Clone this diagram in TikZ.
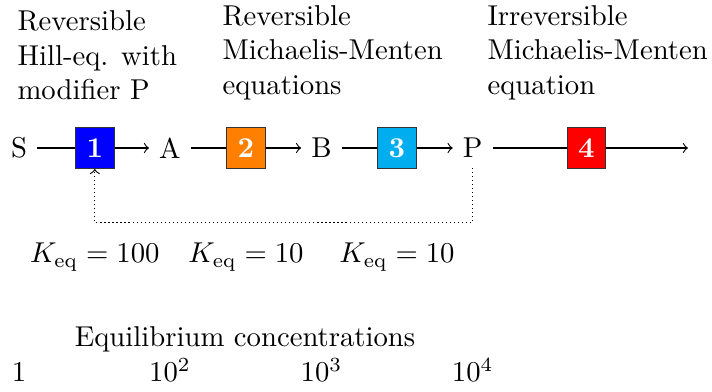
\documentclass[tikz,border=0pt]{standalone}
\definecolor{boxblue}{RGB}{0,0,255}
\definecolor{boxorange}{RGB}{255,128,0}
\definecolor{boxcyan}{RGB}{0,174,239}
\definecolor{boxred}{RGB}{255,0,0}
\begin{document}
\begin{tikzpicture}[x=0.3484pt,y=-0.3484pt,
  species/.style={},
  enzyme/.style={draw=black!80, text=white, font=\bfseries, minimum width=13.5pt, minimum height=14.2pt, inner sep=0pt},
  flow/.style={->},
  feedback/.style={->, densely dotted},
  toplabel/.style={align=left, anchor=south west, inner sep=0pt},
  mathlabel/.style={anchor=base, inner sep=0pt}]
\useasboundingbox (0,0) rectangle (712,392);
% species
\node[species] (S) at (19,148) {S};
\node[species] (A) at (170,148) {A};
\node[species] (B) at (321.5,148) {B};
\node[species] (P) at (472.7,148) {P};
\coordinate (out) at (688,148);
% enzymes
\node[enzyme, fill=boxblue] (E1) at (94.8,148) {1};
\node[enzyme, fill=boxorange] (E2) at (246,148) {2};
\node[enzyme, fill=boxcyan] (E3) at (397,148) {3};
\node[enzyme, fill=boxred] (E4) at (586.5,148) {4};
% connectors
\draw (S) -- (E1);
\draw[flow] (E1) -- (A);
\draw (A) -- (E2);
\draw[flow] (E2) -- (B);
\draw (B) -- (E3);
\draw[flow] (E3) -- (P);
\draw (P) -- (E4);
\draw[flow] (E4) -- (out);
\coordinate (fb) at (0,222.7);
\draw[feedback] (P.south) -- (P.south |- fb) -| (E1.south);
% top labels
\node[toplabel] (L1) at (17,100.5) {Reversible\\Hill-eq. with\\modifier P};
\node[toplabel] (L2) at (222,100.5) {Reversible\\Michaelis-Menten\\equations};
\node[toplabel] (L3) at (487,100.5) {Irreversible\\Michaelis-Menten\\equation};
% equilibrium constants
\coordinate (keq) at (0,263);
\node[mathlabel] (K1) at (E1 |- keq) {$K_{\mathrm{eq}} = 100$};
\node[mathlabel] (K2) at (E2 |- keq) {$K_{\mathrm{eq}} = 10$};
\node[mathlabel] (K3) at (E3 |- keq) {$K_{\mathrm{eq}} = 10$};
% concentrations
\node[mathlabel] (EC) at (245,347) {Equilibrium concentrations};
\coordinate (conc) at (0,382);
\node[mathlabel] (C1) at (S |- conc) {$1$};
\node[mathlabel] (C2) at (A |- conc) {$10^2$};
\node[mathlabel] (C3) at (B |- conc) {$10^3$};
\node[mathlabel] (C4) at (P |- conc) {$10^4$};
\end{tikzpicture}
\end{document}
